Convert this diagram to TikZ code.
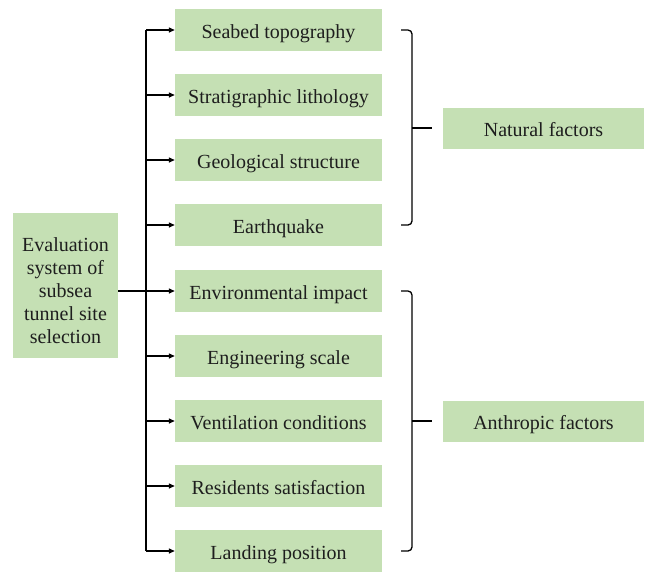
\documentclass[tikz,border=0pt]{standalone}
\usepackage{fontspec}
\setmainfont{Liberation Serif}
\usetikzlibrary{arrows.meta}
\definecolor{boxgreen}{HTML}{C5E0B4}
\definecolor{txt}{HTML}{1E1E1E}
\begin{document}
\begin{tikzpicture}[x=1pt,y=-1pt,
  box/.style={fill=boxgreen,draw=none,text=txt,inner sep=0pt,align=center,
    font=\fontsize{20}{23}\selectfont},
  midbox/.style={box,minimum width=207pt,minimum height=42pt,text height=18pt,text depth=2pt},
  sidebox/.style={box,minimum width=201pt,minimum height=41pt,text height=18pt,text depth=2pt},
  conn/.style={line width=1.3pt,draw=black},
  arr/.style={conn,-{Triangle[length=6pt,width=5pt]}},
  brace/.style={line width=1.3pt,draw=black,rounded corners=4pt}]
\useasboundingbox (0,0) rectangle (653,571);
\node[box,minimum width=105pt,minimum height=145pt] (root) at (65.5,285.5)
  {\raisebox{-12.5pt}[0pt][0pt]{\begin{tabular}{@{}c@{}}Evaluation\\system of\\subsea\\tunnel site\\selection\end{tabular}}};
\node[midbox] (b1) at (278.5,30) {Seabed topography};
\node[midbox] (b2) at (278.5,95) {Stratigraphic lithology};
\node[midbox] (b3) at (278.5,160) {Geological structure};
\node[midbox] (b4) at (278.5,225) {Earthquake};
\node[midbox] (b5) at (278.5,291) {Environmental impact};
\node[midbox] (b6) at (278.5,356) {Engineering scale};
\node[midbox] (b7) at (278.5,421) {Ventilation conditions};
\node[midbox] (b8) at (278.5,486) {Residents satisfaction};
\node[midbox] (b9) at (278.5,551) {Landing position};
\node[sidebox] (nat) at (543.5,128) {Natural factors};
\node[sidebox] (ant) at (543.5,421) {Anthropic factors};
\coordinate (trunk) at (146,0);
\coordinate (bx) at (412,0);
\draw[conn] (b1.west -| trunk) -- (b9.west -| trunk);
\foreach \b in {b1,b2,b3,b4,b6,b7,b8,b9}
  \draw[arr] (\b.west -| trunk) -- (\b.west);
\draw[arr] (root.east |- b5.west) -- (b5.west);
% braces
\draw[brace] ([xshift=19pt]b1.east) -- (b1.east -| bx) -- (b4.east -| bx) -- ([xshift=19pt]b4.east);
\draw[conn] (nat.west -| bx) -- ([xshift=-11pt]nat.west);
\draw[brace] ([xshift=19pt]b5.east) -- (b5.east -| bx) -- (b9.east -| bx) -- ([xshift=19pt]b9.east);
\draw[conn] (ant.west -| bx) -- ([xshift=-11pt]ant.west);
\end{tikzpicture}
\end{document}
